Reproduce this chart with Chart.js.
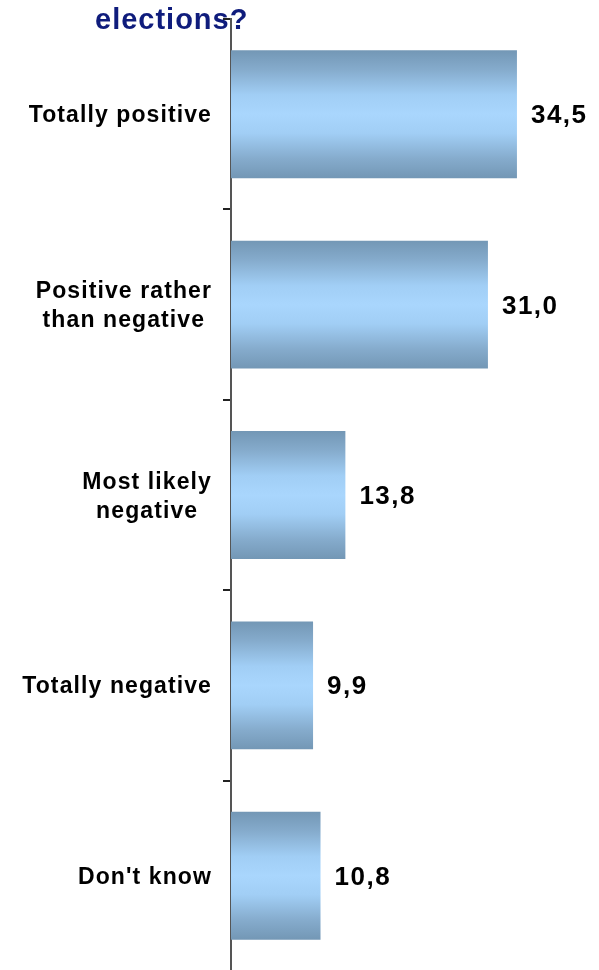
<!DOCTYPE html>
<html>
<head>
<meta charset="utf-8">
<script src="https://cdn.jsdelivr.net/npm/chart.js@4.4.0/dist/chart.umd.min.js"></script>
<style>
  html, body { margin: 0; padding: 0; background: #fff; overflow: hidden; }
  #wrap { position: relative; width: 599px; height: 972px; }
</style>
</head>
<body>
<div id="wrap"><canvas id="opinionChart"></canvas></div>
<script>
// data
const categories = [
    ['Totally positive'],
    ['Positive rather', 'than negative'],
    ['Most likely', 'negative'],
    ['Totally negative'],
    ["Don't know"]
];
const shares = [34.5, 31.0, 13.8, 9.9, 10.8];
const valueLabels = ['34,5', '31,0', '13,8', '9,9', '10,8'];
const titleText = 'elections?';

const FONT = '"Liberation Sans", Arial, sans-serif';

// vertical gradient for each bar, built from the category scale
function barGradient(context) {
    const chart = context.chart;
    const yScale = chart.scales.y;
    if (!chart.chartArea || !yScale) return '#9cc8ee';
    const c = yScale.getPixelForValue(context.dataIndex);
    const half = (yScale.height / categories.length) * 0.672 / 2;
    const g = chart.ctx.createLinearGradient(0, c - half, 0, c + half);
    g.addColorStop(0, '#7397b5');
    g.addColorStop(0.15, '#85abcc');
    g.addColorStop(0.35, '#a1cef5');
    g.addColorStop(0.5, '#a9d6fd');
    g.addColorStop(0.65, '#a1cef5');
    g.addColorStop(0.85, '#85abcc');
    g.addColorStop(1, '#7397b5');
    return g;
}

// title, category labels and value labels
const textPlugin = {
    id: 'texts',
    afterDatasetsDraw(chart) {
        const ctx = chart.ctx;
        const yScale = chart.scales.y;
        const bars = chart.getDatasetMeta(0).data;
        ctx.save();

        // title (last line of a longer heading)
        ctx.fillStyle = '#0f1c7c';
        ctx.font = 'bold 29px ' + FONT;
        ctx.letterSpacing = '1px';
        ctx.textAlign = 'left';
        ctx.textBaseline = 'alphabetic';
        ctx.fillText(titleText, 95, 29);

        // category labels, lines centred inside a right-anchored block
        ctx.fillStyle = '#000';
        ctx.font = 'bold 23px ' + FONT;
        ctx.letterSpacing = '1.1px';
        ctx.textAlign = 'center';
        const rightEdge = 212;
        const lineH = 29;
        categories.forEach((lines, i) => {
            const cy = yScale.getPixelForValue(i);
            const w = Math.max(...lines.map(l => ctx.measureText(l).width));
            const cx = rightEdge - w / 2;
            lines.forEach((line, j) => {
                const y = cy + 8 + (j - (lines.length - 1) / 2) * lineH;
                ctx.fillText(line, cx, y);
            });
        });

        // value labels
        ctx.font = 'bold 26px ' + FONT;
        ctx.letterSpacing = '1.5px';
        ctx.textAlign = 'left';
        bars.forEach((bar, i) => {
            ctx.fillText(valueLabels[i], bar.x + 14, bar.y + 9);
        });

        ctx.restore();
    }
};

const ctx = document.getElementById('opinionChart').getContext('2d');
const opinionChart = new Chart(ctx, {
    type: 'bar',
    data: {
        labels: categories,
        datasets: [{
            data: shares,
            backgroundColor: barGradient,
            borderWidth: 0,
            barPercentage: 0.672,
            categoryPercentage: 1
        }]
    },
    options: {
        indexAxis: 'y',
        responsive: true,
        maintainAspectRatio: false,
        animation: false,
        layout: { padding: { top: 19, bottom: 1, left: 0, right: 0 } },
        plugins: {
            legend: { display: false },
            tooltip: { enabled: false }
        },
        scales: {
            x: {
                display: false,
                min: 0,
                max: 44.4
            },
            y: {
                afterFit: (scale) => { scale.width = 231; },
                ticks: { display: false },
                grid: {
                    drawOnChartArea: false,
                    drawTicks: true,
                    tickLength: 8,
                    color: '#222',
                    lineWidth: 2,
                    offset: true
                },
                border: { display: true, color: '#555', width: 2 }
            }
        }
    },
    plugins: [textPlugin]
});
</script>
</body>
</html>
